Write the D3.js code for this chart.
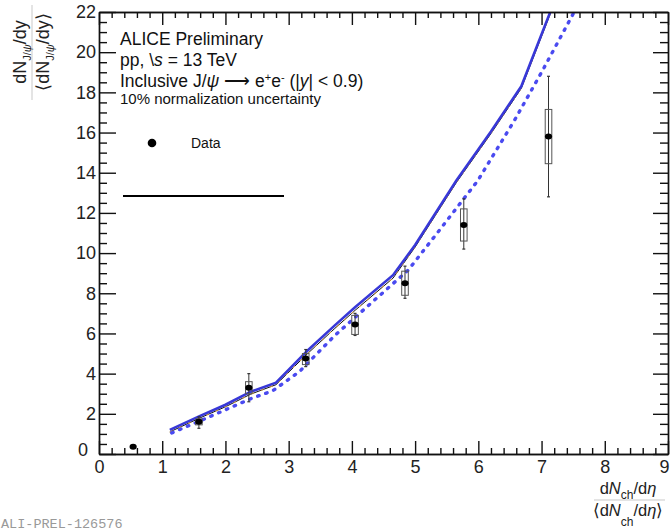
<!DOCTYPE html>
<html>
<head>
<meta charset="utf-8">
<script src="https://cdn.jsdelivr.net/npm/d3@7"></script>
<style>
  html, body { margin: 0; padding: 0; background: #fff; }
  svg { display: block; font-family: "Liberation Sans", Arial, Helvetica, sans-serif; }
</style>
</head>
<body>
<svg id="chart" width="670" height="531"></svg>
<script>
// ---- data ----
const dataX   = [0.54, 1.58, 2.37, 3.27, 4.05, 4.84, 5.77, 7.11];
const dataY   = [0.36, 1.60, 3.30, 4.75, 6.45, 8.50, 11.40, 15.80];
const statLo  = [0.30, 1.28, 2.60, 4.35, 5.90, 7.75, 10.20, 12.80];
const statHi  = [0.42, 1.85, 4.00, 5.20, 7.00, 9.35, 12.70, 18.80];
const sysLo   = [0.33, 1.45, 3.00, 4.45, 5.95, 7.90, 10.60, 14.45];
const sysHi   = [0.39, 1.75, 3.60, 5.00, 6.90, 9.10, 12.20, 17.15];

const modelX      = [1.12, 1.6, 2.0, 2.4, 2.8, 3.3, 3.73, 4.05, 4.65, 5.0, 5.65, 6.2, 6.68, 7.15];
const modelSolid  = [1.20, 1.90, 2.45, 3.10, 3.55, 5.15, 6.40, 7.30, 8.90, 10.40, 13.60, 16.05, 18.30, 22.10];
const modelBlack  = [1.10, 1.80, 2.35, 2.98, 3.45, 5.00, 6.25, 7.15, 8.75, 10.30, 13.50, 15.95, 18.20, 22.00];

const dotX = [1.15, 1.6, 2.0, 2.4, 2.75, 3.17, 3.73, 4.3, 4.89, 5.4, 5.99, 6.57, 7.0, 7.55];
const dotY = [1.05, 1.65, 2.20, 2.75, 3.15, 4.10, 5.90, 7.50, 9.15, 11.20, 13.60, 16.60, 19.00, 22.20];

const xMajor = [0,1,2,3,4,5,6,7,8,9];
const yMajor = [0,2,4,6,8,10,12,14,16,18,20,22];

// ---- layout ----
const svg = d3.select("#chart");
const L = 99, R = 668, T = 12, B = 454;
const x = d3.scaleLinear().domain([0, 9]).range([L, R]);
const y = d3.scaleLinear().domain([0, 22]).range([B, T]);

const xMinor = d3.range(0, 9.0001, 0.2).filter(v => Math.abs(v - Math.round(v)) > 1e-6);
const yMinor = d3.range(0, 22.0001, 0.5).filter(v => Math.abs(v/2 - Math.round(v/2)) > 1e-6);

const axisColor = "#111";
const defs = svg.append("defs");
defs.append("clipPath").attr("id", "plotclip").append("rect")
  .attr("x", L).attr("y", T).attr("width", R - L).attr("height", B - T)
  .attr("fill", "none");

// ---- plot contents ----
const plot = svg.append("g").attr("clip-path", "url(#plotclip)");

const lineS = d3.line().x((d, i) => x(modelX[i])).y(d => y(d));
plot.append("path").datum(modelBlack).attr("d", lineS)
  .attr("fill", "none").attr("stroke", "#111").attr("stroke-width", 1);
plot.append("path").datum(modelBlack).attr("d", lineS)
  .attr("fill", "none").attr("stroke", "#e0a030").attr("stroke-width", 1).attr("stroke-dasharray", "3,7");
plot.append("path").datum(modelSolid).attr("d", lineS)
  .attr("fill", "none").attr("stroke", "#3838d8").attr("stroke-width", 2.6);

const lineD = d3.line().x((d, i) => x(dotX[i])).y(d => y(d));
plot.append("path").datum(dotY).attr("d", lineD)
  .attr("fill", "none").attr("stroke", "#4a4af0").attr("stroke-width", 3.4)
  .attr("stroke-linecap", "round")
  .attr("stroke-dasharray", "1.5,7");

const pts = dataX.map((v, i) => ({x: v, y: dataY[i], sl: statLo[i], sh: statHi[i], yl: sysLo[i], yh: sysHi[i]}));
const gp = plot.append("g");
gp.selectAll("line.stat").data(pts).join("line")
  .attr("x1", d => x(d.x)).attr("x2", d => x(d.x))
  .attr("y1", d => y(d.sl)).attr("y2", d => y(d.sh))
  .attr("stroke", "#333").attr("stroke-width", 1);
gp.selectAll("line.capl").data(pts).join("line")
  .attr("x1", d => x(d.x) - 1.5).attr("x2", d => x(d.x) + 1.5)
  .attr("y1", d => y(d.sl)).attr("y2", d => y(d.sl))
  .attr("stroke", "#333").attr("stroke-width", 1.2);
gp.selectAll("line.caph").data(pts).join("line")
  .attr("x1", d => x(d.x) - 1.5).attr("x2", d => x(d.x) + 1.5)
  .attr("y1", d => y(d.sh)).attr("y2", d => y(d.sh))
  .attr("stroke", "#333").attr("stroke-width", 1.2);
gp.selectAll("rect.sys").data(pts.slice(1)).join("rect")
  .attr("x", d => x(d.x) - 3.3).attr("width", 6.6)
  .attr("y", d => y(d.yh)).attr("height", d => y(d.yl) - y(d.yh))
  .attr("fill", "none").attr("stroke", "#555").attr("stroke-width", 1);
gp.selectAll("ellipse.pt").data(pts).join("ellipse")
  .attr("cx", d => x(d.x)).attr("cy", d => y(d.y))
  .attr("rx", 3.6).attr("ry", 3)
  .attr("fill", "#000");

// ---- texts ----
const tx = svg.append("g").attr("fill", "#111");
tx.append("text").attr("x", 120).attr("y", 45).style("font-size", "17.5px").text("ALICE Preliminary");
const t2 = tx.append("text").attr("x", 120).attr("y", 66).style("font-size", "17.5px");
t2.append("tspan").text("pp, \\");
t2.append("tspan").attr("font-style", "italic").text("s");
t2.append("tspan").text(" = 13 TeV");
const t3 = tx.append("text").attr("x", 120).attr("y", 87).style("font-size", "17.5px");
t3.append("tspan").text("Inclusive J/");
t3.append("tspan").attr("font-style", "italic").text("ψ");
t3.append("tspan").text(" ⟶ e");
t3.append("tspan").attr("baseline-shift", "super").style("font-size", "11px").text("+");
t3.append("tspan").text("e");
t3.append("tspan").attr("baseline-shift", "super").style("font-size", "11px").text("-");
t3.append("tspan").text(" (|");
t3.append("tspan").attr("font-style", "italic").text("y");
t3.append("tspan").text("| < 0.9)");
tx.append("text").attr("x", 120).attr("y", 104).style("font-size", "15px").text("10% normalization uncertainty");

// legend
svg.append("circle").attr("cx", 152).attr("cy", 143).attr("r", 4.3).attr("fill", "#000");
svg.append("text").attr("x", 191).attr("y", 148).style("font-size", "14px").attr("fill", "#111").text("Data");
svg.append("line").attr("x1", 123).attr("x2", 284).attr("y1", 196).attr("y2", 196)
  .attr("stroke", "#000").attr("stroke-width", 2);

// y axis title (rotated fraction)
function yPart(g, xBase, brackets) {
  const t = g.append("text").attr("transform", `translate(${xBase},52) rotate(-90)`)
    .attr("text-anchor", "middle").style("font-size", "18px").attr("fill", "#222");
  if (brackets) t.append("tspan").text("⟨");
  t.append("tspan").text("dN");
  t.append("tspan").attr("dy", 5).style("font-size", "11px").text("J/");
  t.append("tspan").attr("font-style", "italic").style("font-size", "11px").text("ψ");
  t.append("tspan").attr("dy", -5).text("/dy");
  if (brackets) t.append("tspan").text("⟩");
}
const gy = svg.append("g");
yPart(gy, 26, false);
gy.append("line").attr("x1", 32).attr("x2", 32).attr("y1", 5).attr("y2", 100)
  .attr("stroke", "#bbb").attr("stroke-width", 0.8);
yPart(gy, 49, true);

// x axis title
function xPart(g, yBase, brackets, sub) {
  const t = g.append("text").attr("x", 628).attr("y", yBase).attr("text-anchor", "middle")
    .style("font-size", "16.5px").attr("fill", "#222");
  if (brackets) t.append("tspan").text("⟨");
  t.append("tspan").text("d");
  t.append("tspan").attr("font-style", "italic").text("N");
  t.append("tspan").attr("dy", sub).style("font-size", "12px").text("ch");
  t.append("tspan").attr("dy", -sub).text("/d");
  t.append("tspan").attr("font-style", "italic").text("η");
  if (brackets) t.append("tspan").text("⟩");
}
const gx = svg.append("g");
xPart(gx, 494, false, 5);
gx.append("line").attr("x1", 594).attr("x2", 665).attr("y1", 500).attr("y2", 500)
  .attr("stroke", "#bbb").attr("stroke-width", 0.8);
xPart(gx, 516, true, 10);

// watermark
svg.append("text").attr("x", 1).attr("y", 528)
  .style("font-family", '"Liberation Mono", "DejaVu Sans Mono", monospace')
  .style("font-size", "13.5px").attr("fill", "#999").text("ALI-PREL-126576");

// ---- axes drawn last (on top) ----
function styleAxis(g) {
  g.selectAll("path.domain").attr("stroke", axisColor).attr("stroke-width", 1.4);
  g.selectAll(".tick line").attr("stroke", axisColor).attr("stroke-width", 1.4);
  g.selectAll("text").attr("fill", "#222").style("font-size", "18px")
    .style("font-family", '"Liberation Sans", Arial, sans-serif');
}
function addAxis(axisGen, tx, ty, values, fmt, inner, pad) {
  const g = svg.append("g").attr("transform", `translate(${tx},${ty})`)
    .call(axisGen.tickValues(values).tickFormat(fmt).tickSizeInner(inner).tickSizeOuter(0).tickPadding(pad));
  styleAxis(g);
  return g;
}
const gB = addAxis(d3.axisBottom(x), 0, B, xMajor, d3.format("d"), -13, 6);
addAxis(d3.axisBottom(x), 0, B, xMinor, () => "", -6, 0);
gB.selectAll(".tick").filter(d => d === 9).select("text").attr("text-anchor", "end").attr("x", 1);
addAxis(d3.axisTop(x), 0, T, xMajor, () => "", -13, 0);
addAxis(d3.axisTop(x), 0, T, xMinor, () => "", -6, 0);
const gL = addAxis(d3.axisLeft(y), L, 0, yMajor, d3.format("d"), -17, 3);
addAxis(d3.axisLeft(y), L, 0, yMinor, () => "", -8, 0);
gL.selectAll(".tick").filter(d => d === 0).select("text").attr("x", -11).attr("dy", "0.1em");
addAxis(d3.axisRight(y), R, 0, yMajor, () => "", -15, 0);
addAxis(d3.axisRight(y), R, 0, yMinor, () => "", -8, 0);
</script>
</body>
</html>
